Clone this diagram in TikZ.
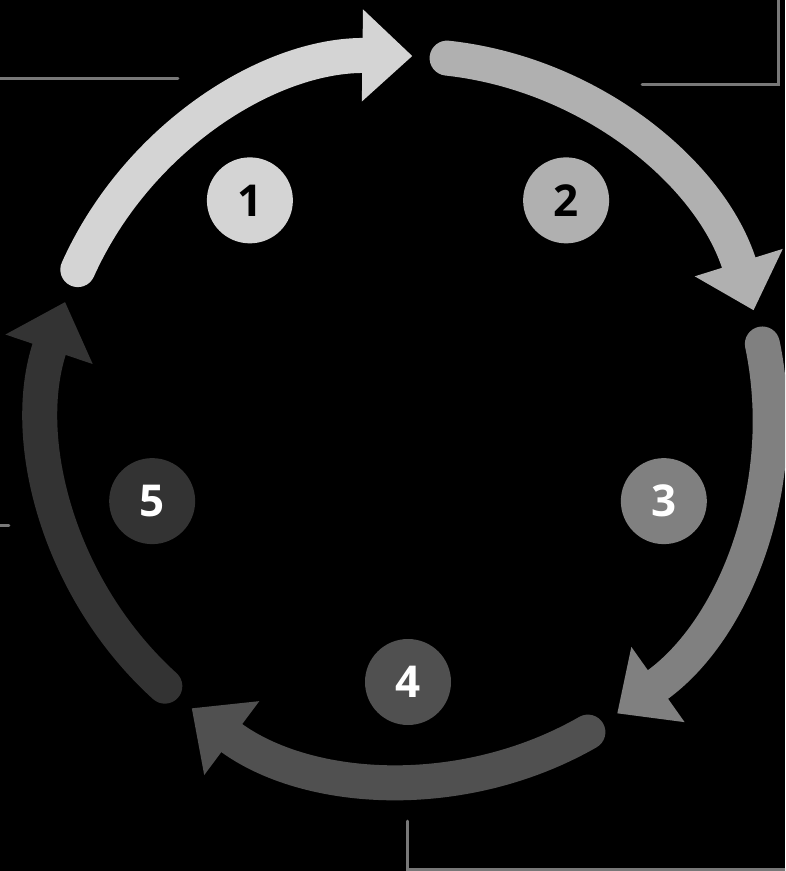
\documentclass[tikz,border=0pt]{standalone}
\usepackage{fontspec}
\setsansfont{Open Sans}
\usetikzlibrary{arrows.meta}
\definecolor{stepone}{RGB}{212,212,212}
\definecolor{steptwo}{RGB}{176,176,176}
\definecolor{stepthree}{RGB}{128,128,128}
\definecolor{stepfour}{RGB}{80,80,80}
\definecolor{stepfive}{RGB}{51,51,51}
\definecolor{calloutgray}{RGB}{120,120,120}

\tikzset{
  cyclearc/.style={line width=0.7cm, line cap=round, -{Triangle[width=1.78cm, length=1cm]}},
  stepnum/.style={circle, minimum size=1.72cm, inner sep=0pt, font=\sffamily\bfseries\fontsize{25}{25}\selectfont},
  callout/.style={calloutgray, line width=0.06cm, line cap=round}
}

\begin{document}
\begin{tikzpicture}
            \clip (-8.16,-9.06) rectangle (7.54,8.36);
            \fill[black] (-8.16,-9.06) rectangle (7.54,8.36);
            % Callout lines
            \draw[callout] (-8.3,6.79) -- (-4.6,6.79);
            \draw[callout] (7.4,8.5) -- (7.4,6.66) -- (4.68,6.66);
            \draw[callout] (-8.3,-2.16) -- (-7.98,-2.16);
            \draw[callout] (-0.02,-8.06) -- (-0.02,-9.02) -- (7.7,-9.02);
            % Cycle arrows
            \draw[cyclearc, stepone] (155.8:7.24) arc[start angle=155.8, end angle=89.3, radius=7.24];
            \draw[cyclearc, steptwo] (83.8:7.24) arc[start angle=83.8, end angle=17.3, radius=7.24];
            \draw[cyclearc, stepthree] (11.8:7.24) arc[start angle=11.8, end angle=-54.7, radius=7.24];
            \draw[cyclearc, stepfour] (-60.2:7.24) arc[start angle=-60.2, end angle=-126.7, radius=7.24];
            \draw[cyclearc, stepfive] (-132.2:7.24) arc[start angle=-132.2, end angle=-198.7, radius=7.24];
            % Step numbers
            \node[stepnum, fill=stepone, text=black] (n1) at (126:5.38) {1};
            \node[stepnum, fill=steptwo, text=black] (n2) at (54:5.38) {2};
            \node[stepnum, fill=stepthree, text=white] (n3) at (-18:5.38) {3};
            \node[stepnum, fill=stepfour, text=white] (n4) at (-90:5.28) {4};
            \node[stepnum, fill=stepfive, text=white] (n5) at (-162:5.38) {5};
        \end{tikzpicture}
\end{document}
